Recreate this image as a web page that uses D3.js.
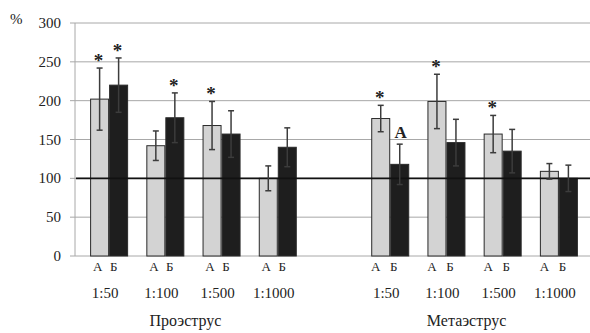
<!DOCTYPE html>
<html>
<head>
<meta charset="utf-8">
<script src="https://cdn.jsdelivr.net/npm/d3@7"></script>
</head>
<body style="margin:0">
<div id="chart"></div>
<script>
// Data
const phases = ["Проэструс", "Метаэструс"];
const dilutions = ["1:50", "1:100", "1:500", "1:1000"];
const groups = ["p0", "p1", "p2", "p3", "gap", "m0", "m1", "m2", "m3"];
const valuesA = [202, 142, 168, 100, 177, 199, 157, 109];
const valuesB = [220, 178, 157, 140, 118, 146, 135, 100];
const errA = [40, 19, 31, 16, 17, 35, 24, 10];
const errB = [35, 32, 30, 25, 26, 30, 28, 17];
const starA = [1, 0, 1, 0, 1, 1, 1, 0];
const starB = [1, 1, 0, 0, 0, 0, 0, 0];
const markB = ["", "", "", "", "А", "", "", ""];
const yTicks = [0, 50, 100, 150, 200, 250, 300];

// Plot constants
const W = 590, H = 333;
const MARGIN = { LEFT: 75, TOP: 23, BOTTOM: 77 };

const svg = d3.select("#chart").append("svg")
  .attr("width", W)
  .attr("height", H)
  .attr("font-family", "Times New Roman, serif");

const y = d3.scaleLinear().domain([0, 300]).range([H - MARGIN.BOTTOM, MARGIN.TOP]);

const x = d3.scaleBand()
  .domain(groups)
  .range([81, 587])
  .paddingInner(0.324)
  .paddingOuter(0.162);

const xSub = d3.scaleBand().domain(["A", "B"]).range([0, x.bandwidth()]);

const keys = groups.filter(g => g !== "gap");
const rows = keys.map((k, i) => ({ k, i }));

function label(sel, size) {
  return sel.attr("font-family", "Times New Roman, serif").attr("font-size", size).attr("fill", "#222");
}

// Gridlines + ticks
svg.append("g").selectAll("line").data(yTicks.filter(t => t > 0)).join("line")
  .attr("x1", MARGIN.LEFT - 5).attr("x2", W)
  .attr("y1", d => y(d)).attr("y2", d => y(d))
  .attr("stroke", "#a8a8a8").attr("stroke-width", 1);

label(svg.append("g").selectAll("text").data(yTicks).join("text"), 15)
  .attr("x", 61).attr("y", d => y(d) + 5)
  .attr("text-anchor", "end")
  .text(d => d);

label(svg.append("text"), 15).attr("x", 10).attr("y", 24).text("%");

// Axis lines
svg.append("line")
  .attr("x1", MARGIN.LEFT).attr("x2", MARGIN.LEFT)
  .attr("y1", y(300)).attr("y2", y(0))
  .attr("stroke", "#a8a8a8");
svg.append("line")
  .attr("x1", MARGIN.LEFT - 5).attr("x2", W)
  .attr("y1", y(0)).attr("y2", y(0))
  .attr("stroke", "#a8a8a8");

// Bars
const g = svg.append("g");

function drawBars(key, vals, fill) {
  g.selectAll(".bar" + key).data(rows).join("rect")
    .attr("class", "bar" + key)
    .attr("x", d => x(d.k) + xSub(key) + 0.5)
    .attr("width", xSub.bandwidth() - 1)
    .attr("y", d => y(vals[d.i]))
    .attr("height", d => y(0) - y(vals[d.i]))
    .attr("fill", fill)
    .attr("stroke", "#2a2a2a")
    .attr("stroke-width", 1);
}
drawBars("A", valuesA, "#d3d3d3");
drawBars("B", valuesB, "#1e1e1e");

// Reference line at 100
svg.append("line")
  .attr("x1", MARGIN.LEFT + 1).attr("x2", W)
  .attr("y1", y(100)).attr("y2", y(100))
  .attr("stroke", "#111").attr("stroke-width", 1.8);

// Error bars
function drawErr(key, vals, errs) {
  const cx = d => x(d.k) + xSub(key) + xSub.bandwidth() / 2;
  const eg = svg.append("g").attr("stroke", "#3c3c3c").attr("stroke-width", 1.5);
  eg.selectAll(".v").data(rows).join("line")
    .attr("x1", cx).attr("x2", cx)
    .attr("y1", d => y(vals[d.i] + errs[d.i]))
    .attr("y2", d => y(vals[d.i] - errs[d.i]));
  [1, -1].forEach(s => {
    eg.selectAll(".c" + s).data(rows).join("line")
      .attr("x1", d => cx(d) - 3).attr("x2", d => cx(d) + 3)
      .attr("y1", d => y(vals[d.i] + s * errs[d.i]))
      .attr("y2", d => y(vals[d.i] + s * errs[d.i]));
  });
  return cx;
}
const cxA = drawErr("A", valuesA, errA);
const cxB = drawErr("B", valuesB, errB);

// Significance stars
function drawStars(stars, vals, errs, cx) {
  label(svg.append("g").selectAll("text").data(rows.filter(d => stars[d.i])).join("text"), 19)
    .attr("x", d => cx(d) - 1)
    .attr("y", d => y(vals[d.i] + errs[d.i]) - 1)
    .attr("text-anchor", "middle")
    .attr("font-weight", "bold")
    .text("*");
}
drawStars(starA, valuesA, errA, cxA);
drawStars(starB, valuesB, errB, cxB);

label(svg.append("g").selectAll("text").data(rows.filter(d => markB[d.i])).join("text"), 17)
  .attr("x", d => cxB(d) + 1)
  .attr("y", d => y(valuesB[d.i] + errB[d.i]) - 6)
  .attr("text-anchor", "middle")
  .attr("font-weight", "bold")
  .text(d => markB[d.i]);

// X labels
const gc = d => x(d.k) + x.bandwidth() / 2;
label(svg.append("g").selectAll("text").data(rows).join("text"), 13)
  .attr("x", d => cxA(d) - (d.i < 4 ? 2 : 5))
  .attr("y", 271)
  .attr("text-anchor", "middle")
  .text("А");
label(svg.append("g").selectAll("text").data(rows).join("text"), 13)
  .attr("x", d => cxB(d) - (d.i < 4 ? 5 : 6))
  .attr("y", 271)
  .attr("text-anchor", "middle")
  .text("Б");

label(svg.append("g").selectAll("text").data(rows).join("text"), 15)
  .attr("x", d => gc(d) - 4)
  .attr("y", 298)
  .attr("text-anchor", "middle")
  .text(d => dilutions[d.i % 4]);

label(svg.append("g").selectAll("text").data(phases).join("text"), 16)
  .attr("x", (d, i) => (gc(rows[i * 4]) + gc(rows[i * 4 + 3])) / 2 - 8)
  .attr("y", 326)
  .attr("text-anchor", "middle")
  .text(d => d);
</script>
</body>
</html>
